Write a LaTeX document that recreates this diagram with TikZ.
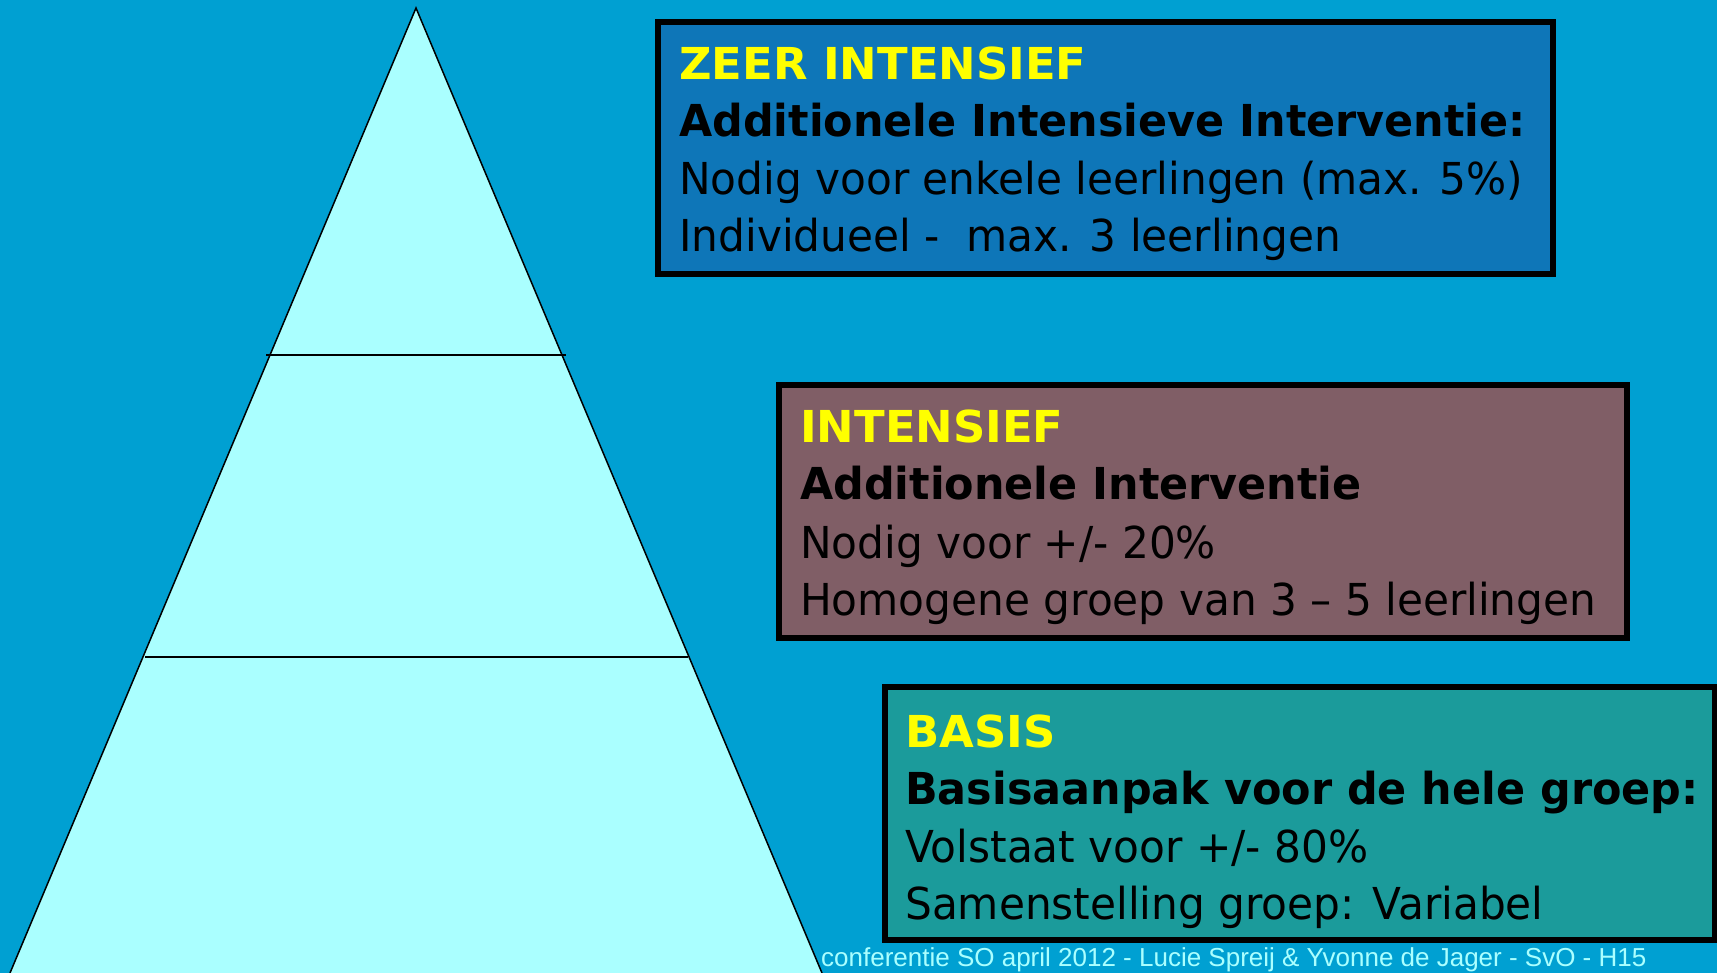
\documentclass[tikz,border=0pt]{standalone}
\usepackage{fontspec}
\setmainfont{DejaVu Sans}
\newfontfamily\regf{DejaVu Sans}[FakeStretch=0.96]
\newfontfamily\boldf{DejaVu Sans}[FakeStretch=0.975]
\newfontfamily\ttlf{DejaVu Sans}[FakeStretch=1.02]
\newfontfamily\footf{Liberation Sans}
\definecolor{bg}{RGB}{0,160,210}
\definecolor{pyr}{RGB}{170,255,255}
\definecolor{boxA}{RGB}{14,118,184}
\definecolor{boxB}{RGB}{128,94,102}
\definecolor{boxC}{RGB}{27,155,155}
\definecolor{ttl}{RGB}{255,255,0}
\tikzset{
  box/.style={draw=black, line width=6pt, inner sep=0pt, anchor=north west},
  ttltext/.style={anchor=base west, inner sep=0pt, text=ttl, font=\ttlf\bfseries\fontsize{44}{50}\selectfont},
  boldtext/.style={anchor=base west, inner sep=0pt, text=black, font=\boldf\bfseries\fontsize{44}{50}\selectfont},
  regtext/.style={anchor=base west, inner sep=0pt, text=black, font=\regf\fontsize{44}{50}\selectfont},
  foottext/.style={anchor=base west, inner sep=0pt, text=pyr, font=\footf\fontsize{26}{30}\selectfont},
  tier/.style={draw=black, line width=1.5pt}
}
\begin{document}
\begin{tikzpicture}[x=1pt,y=-1pt]
\useasboundingbox (0,0) rectangle (1717,973);
\fill[bg] (0,0) rectangle (1717,973);
% pyramid
\coordinate (apex) at (416,8);
\coordinate (bl) at (10,973);
\coordinate (br) at (822,973);
\filldraw[fill=pyr, draw=black, line width=1.5pt] (bl) -- (apex) -- (br);
\coordinate (l1a) at (266,355);
\coordinate (l1b) at (566,355);
\coordinate (l2a) at (145,657);
\coordinate (l2b) at (688,657);
\draw[tier] (l1a) -- (l1b);
\draw[tier] (l2a) -- (l2b);
% boxes
\node[box, fill=boxA, minimum width=895pt, minimum height=252pt] (b1) at (655,19) {};
\node[box, fill=boxB, minimum width=848pt, minimum height=253pt] (b2) at (776,382) {};
\node[box, fill=boxC, minimum width=830pt, minimum height=253pt] (b3) at (882,684) {};
% texts box 1
\node[ttltext] (t1a) at (679,80) {ZEER INTENSIEF};
\node[boldtext] (t1b) at (679,137) {Additionele Intensieve Interventie:};
\node[regtext] (t1c) at (679,195) {Nodig voor enkele leerlingen (max. 5\%)};
\node[regtext] (t1d) at (679,252) {Individueel -\ \ max. 3 leerlingen};
% texts box 2
\node[ttltext] (t2a) at (800,443) {INTENSIEF};
\node[boldtext] (t2b) at (800,500) {Additionele Interventie};
\node[regtext] (t2c) at (800,558) {Nodig voor +/- 20\%};
\node[regtext] (t2d) at (800,615) {Homogene groep van 3 – 5 leerlingen};
% texts box 3
\node[ttltext] (t3a) at (905,747) {BASIS};
\node[boldtext] (t3b) at (905,804) {Basisaanpak voor de hele groep:};
\node[regtext] (t3c) at (905,862) {Volstaat voor +/- 80\%};
\node[regtext] (t3d) at (905,919) {Samenstelling groep: Variabel};
% footer
\node[foottext] (foot) at (821,966) {conferentie SO april 2012 - Lucie Spreij \& Yvonne de Jager - SvO - H15};
\end{tikzpicture}
\end{document}
